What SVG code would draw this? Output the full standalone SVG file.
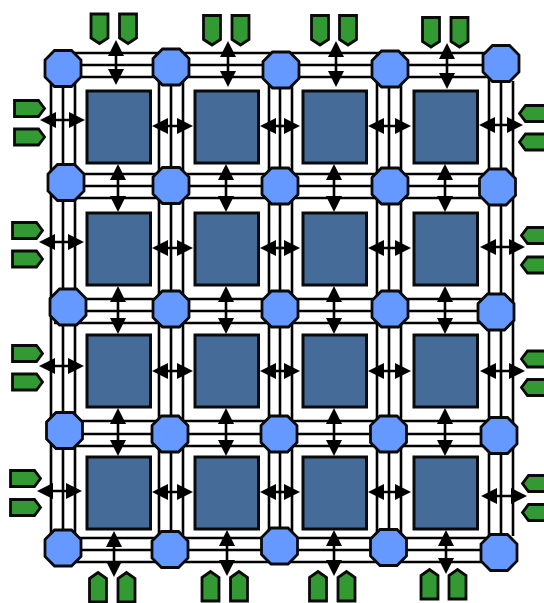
<svg xmlns="http://www.w3.org/2000/svg" width="544" height="603" viewBox="0 0 544 603">
<style>
.s{fill:#456c98;stroke:#0a0a0a;stroke-width:3}
.o{fill:#6699ff;stroke:#0a0a0a;stroke-width:2.8;stroke-linejoin:miter}
.g{fill:#339933;stroke:#0a0a0a;stroke-width:2.8}
.t{stroke:#000;stroke-width:2.6;fill:none}
.a{stroke:#000;stroke-width:2.6;fill:none;marker-start:url(#h);marker-end:url(#h)}
</style>
<defs>
<marker id="h" markerUnits="userSpaceOnUse" markerWidth="16" markerHeight="17" refX="12" refY="8.5" orient="auto-start-reverse" viewBox="0 0 16 17"><path d="M0 0.5L16 8.5L0 16.5Z" fill="#000"/></marker>
<path id="oc" d="M-8.5-18H8.5L18-8.5V8.5L8.5 18H-8.5L-18 8.5V-8.5Z"/>
<path id="sq" d="M.5 .5H64V72.5H.5Z"/>
<path id="pd" d="M-8.5 0H8.5V24L0 29.5L-8.5 24Z"/>
<path id="pu" d="M-8.5 29.5H8.5V6L0 0L-8.5 6Z"/>
<path id="pr" d="M0-8H24L30 0L24 8H0Z"/>
<path id="pl" d="M30-8H6L0 0L6 8H30Z"/>
</defs>
<rect width="544" height="603" fill="#fff"/>
<g id="connectors">
<g id="tracks-h">
<path class="t" d="M55 53H490M55 65H490M55 77H490"/>
<path class="t" d="M55 174H490M55 186H490M55 198H490"/>
<path class="t" d="M54 299H490M54 311H490M54 323H490"/>
<path class="t" d="M55 421H490M55 434H490M55 446H490"/>
<path class="t" d="M55 538H490M55 550H490M55 562H490"/>
</g>
<g id="tracks-v">
<path class="t" d="M51 78V535M63 68V548M75 70V535"/>
<path class="t" d="M159 70V535M171 68V548M183 70V535"/>
<path class="t" d="M269 70V535M280 68V548M292 70V535"/>
<path class="t" d="M377 70V535M389 68V548M401 70V535"/>
<path class="t" d="M489 70V540M501 64V552M513 81V536"/>
</g>
<g id="arrows-v">
<path class="a" d="M116 44V81"/><path class="a" d="M228 45V83"/><path class="a" d="M336 45V83"/><path class="a" d="M447 47V85"/>
<path class="a" d="M118 168V208"/><path class="a" d="M226 168V208"/><path class="a" d="M334 168V208"/><path class="a" d="M445 168V208"/>
<path class="a" d="M118 290V330"/><path class="a" d="M226 290V330"/><path class="a" d="M334 290V330"/><path class="a" d="M445 290V330"/>
<path class="a" d="M118 412V452"/><path class="a" d="M226 412V452"/><path class="a" d="M334 412V452"/><path class="a" d="M445 412V452"/>
<path class="a" d="M114 535V573"/><path class="a" d="M227 534V572"/><path class="a" d="M334 534V572"/><path class="a" d="M446 534V570"/>
</g>
<g id="arrows-h">
<path class="a" d="M44 120H81"/><path class="a" d="M156 126H189"/><path class="a" d="M264 126H296"/><path class="a" d="M372 126H407"/><path class="a" d="M483 125H519"/>
<path class="a" d="M43 242H80"/><path class="a" d="M156 248H189"/><path class="a" d="M264 248H296"/><path class="a" d="M372 248H407"/><path class="a" d="M484 247H521"/>
<path class="a" d="M43 366H80"/><path class="a" d="M156 371H189"/><path class="a" d="M264 371H296"/><path class="a" d="M372 371H407"/><path class="a" d="M484 371H521"/>
<path class="a" d="M41 491H78"/><path class="a" d="M156 492H189"/><path class="a" d="M264 492H296"/><path class="a" d="M372 492H407"/><path class="a" d="M485 496H523"/>
</g>
</g>
<g id="blocks">
<g id="block-1-1"><use href="#sq" class="s" x="86.5" y="90.5"/></g>
<g id="block-1-2"><use href="#sq" class="s" x="194.5" y="90.5"/></g>
<g id="block-1-3"><use href="#sq" class="s" x="302.5" y="90.5"/></g>
<g id="block-1-4"><use href="#sq" class="s" x="413.5" y="90.5"/></g>
<g id="block-2-1"><use href="#sq" class="s" x="86.5" y="212.5"/></g>
<g id="block-2-2"><use href="#sq" class="s" x="194.5" y="212.5"/></g>
<g id="block-2-3"><use href="#sq" class="s" x="302.5" y="212.5"/></g>
<g id="block-2-4"><use href="#sq" class="s" x="413.5" y="212.5"/></g>
<g id="block-3-1"><use href="#sq" class="s" x="86.5" y="334.5"/></g>
<g id="block-3-2"><use href="#sq" class="s" x="194.5" y="334.5"/></g>
<g id="block-3-3"><use href="#sq" class="s" x="302.5" y="334.5"/></g>
<g id="block-3-4"><use href="#sq" class="s" x="413.5" y="334.5"/></g>
<g id="block-4-1"><use href="#sq" class="s" x="86.5" y="456.5"/></g>
<g id="block-4-2"><use href="#sq" class="s" x="194.5" y="456.5"/></g>
<g id="block-4-3"><use href="#sq" class="s" x="302.5" y="456.5"/></g>
<g id="block-4-4"><use href="#sq" class="s" x="413.5" y="456.5"/></g>
</g>
<g id="switches">
<g id="sw-1-1"><use href="#oc" class="o" x="63" y="68.5"/></g>
<g id="sw-1-2"><use href="#oc" class="o" x="171" y="67"/></g>
<g id="sw-1-3"><use href="#oc" class="o" x="281" y="70"/></g>
<g id="sw-1-4"><use href="#oc" class="o" x="390" y="69"/></g>
<g id="sw-1-5"><use href="#oc" class="o" x="501" y="63.5"/></g>
<g id="sw-2-1"><use href="#oc" class="o" x="66" y="182.5"/></g>
<g id="sw-2-2"><use href="#oc" class="o" x="171" y="185.5"/></g>
<g id="sw-2-3"><use href="#oc" class="o" x="280" y="186"/></g>
<g id="sw-2-4"><use href="#oc" class="o" x="390" y="186"/></g>
<g id="sw-2-5"><use href="#oc" class="o" x="497.5" y="187"/></g>
<g id="sw-3-1"><use href="#oc" class="o" x="68" y="307"/></g>
<g id="sw-3-2"><use href="#oc" class="o" x="171" y="309"/></g>
<g id="sw-3-3"><use href="#oc" class="o" x="280" y="309"/></g>
<g id="sw-3-4"><use href="#oc" class="o" x="390" y="309"/></g>
<g id="sw-3-5"><use href="#oc" class="o" x="496" y="312"/></g>
<g id="sw-4-1"><use href="#oc" class="o" x="64.5" y="430.5"/></g>
<g id="sw-4-2"><use href="#oc" class="o" x="170" y="434"/></g>
<g id="sw-4-3"><use href="#oc" class="o" x="279" y="434"/></g>
<g id="sw-4-4"><use href="#oc" class="o" x="388.5" y="434"/></g>
<g id="sw-4-5"><use href="#oc" class="o" x="499" y="435.5"/></g>
<g id="sw-5-1"><use href="#oc" class="o" x="63" y="548"/></g>
<g id="sw-5-2"><use href="#oc" class="o" x="170" y="549.5"/></g>
<g id="sw-5-3"><use href="#oc" class="o" x="279.5" y="546"/></g>
<g id="sw-5-4"><use href="#oc" class="o" x="388.5" y="547.5"/></g>
<g id="sw-5-5"><use href="#oc" class="o" x="499" y="552.5"/></g>
</g>
<g id="pads">
<g id="pad-t1a"><use href="#pd" class="g" x="99.5" y="14"/></g>
<g id="pad-t1b"><use href="#pd" class="g" x="128" y="14"/></g>
<g id="pad-t2a"><use href="#pd" class="g" x="212" y="15.5"/></g>
<g id="pad-t2b"><use href="#pd" class="g" x="240.5" y="15.5"/></g>
<g id="pad-t3a"><use href="#pd" class="g" x="320" y="15.5"/></g>
<g id="pad-t3b"><use href="#pd" class="g" x="348" y="15.5"/></g>
<g id="pad-t4a"><use href="#pd" class="g" x="431" y="17.5"/></g>
<g id="pad-t4b"><use href="#pd" class="g" x="459.5" y="17.5"/></g>
<g id="pad-b1a"><use href="#pu" class="g" x="98" y="572.5"/></g>
<g id="pad-b1b"><use href="#pu" class="g" x="126.5" y="572.5"/></g>
<g id="pad-b2a"><use href="#pu" class="g" x="210.5" y="571.5"/></g>
<g id="pad-b2b"><use href="#pu" class="g" x="239" y="571.5"/></g>
<g id="pad-b3a"><use href="#pu" class="g" x="318" y="571.5"/></g>
<g id="pad-b3b"><use href="#pu" class="g" x="346.5" y="571.5"/></g>
<g id="pad-b4a"><use href="#pu" class="g" x="429.5" y="569.5"/></g>
<g id="pad-b4b"><use href="#pu" class="g" x="457.5" y="569.5"/></g>
<g id="pad-l1a"><use href="#pr" class="g" x="14.5" y="108.5"/></g>
<g id="pad-l1b"><use href="#pr" class="g" x="14.5" y="137"/></g>
<g id="pad-l2a"><use href="#pr" class="g" x="12.5" y="230.5"/></g>
<g id="pad-l2b"><use href="#pr" class="g" x="12.5" y="259"/></g>
<g id="pad-l3a"><use href="#pr" class="g" x="12.5" y="353.5"/></g>
<g id="pad-l3b"><use href="#pr" class="g" x="12.5" y="382"/></g>
<g id="pad-l4a"><use href="#pr" class="g" x="10.5" y="478.5"/></g>
<g id="pad-l4b"><use href="#pr" class="g" x="10.5" y="507.5"/></g>
<g id="pad-r1a"><use href="#pl" class="g" x="519.5" y="113.5"/></g>
<g id="pad-r1b"><use href="#pl" class="g" x="519.5" y="142"/></g>
<g id="pad-r2a"><use href="#pl" class="g" x="521.5" y="235.5"/></g>
<g id="pad-r2b"><use href="#pl" class="g" x="521.5" y="265"/></g>
<g id="pad-r3a"><use href="#pl" class="g" x="521.5" y="359"/></g>
<g id="pad-r3b"><use href="#pl" class="g" x="521.5" y="387.5"/></g>
<g id="pad-r4a"><use href="#pl" class="g" x="522.5" y="483.5"/></g>
<g id="pad-r4b"><use href="#pl" class="g" x="522.5" y="512.5"/></g>
</g>
</svg>
